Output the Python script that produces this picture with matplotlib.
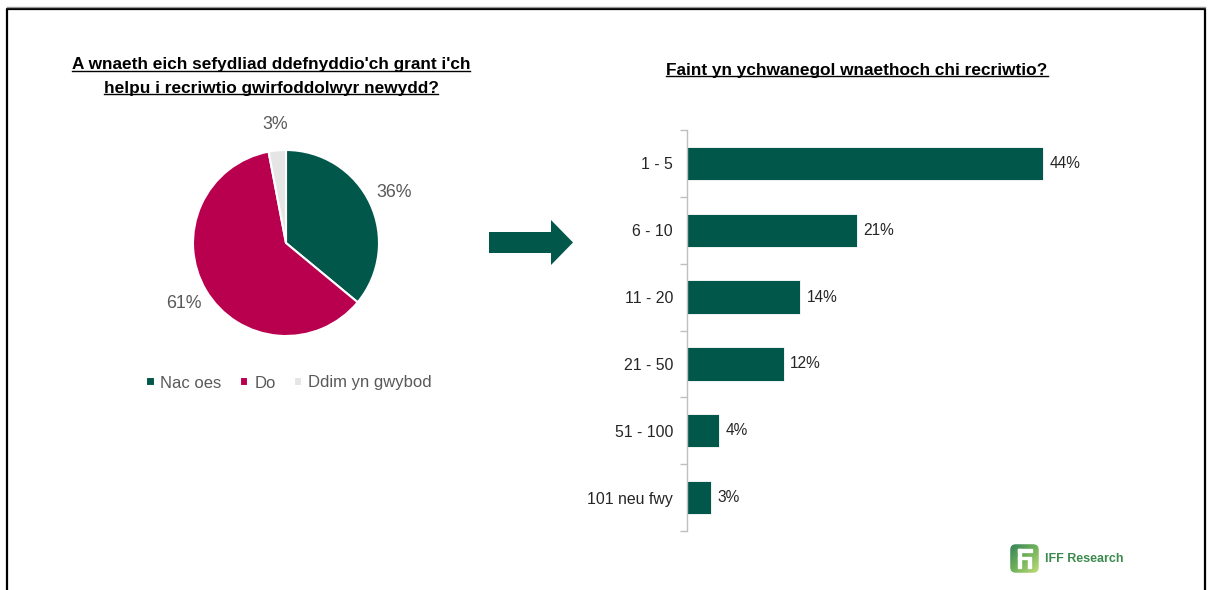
import matplotlib
matplotlib.use("Agg")
import matplotlib.pyplot as plt
import numpy as np
from matplotlib.patches import FancyArrow, FancyBboxPatch, Rectangle
from matplotlib.lines import Line2D
from matplotlib.colors import LinearSegmentedColormap

plt.rcParams['font.family'] = ['Liberation Sans', 'DejaVu Sans']

# ---- data ----
pie_title = ["A wnaeth eich sefydliad ddefnyddio'ch grant i'ch",
             "helpu i recriwtio gwirfoddolwyr newydd?"]
pie_labels = ["Nac oes", "Do", "Ddim yn gwybod"]
pie_values = [36, 61, 3]

bar_title = "Faint yn ychwanegol wnaethoch chi recriwtio?"
bar_categories = ["1 - 5", "6 - 10", "11 - 20", "21 - 50", "51 - 100", "101 neu fwy"]
bar_values = [44, 21, 14, 12, 4, 3]

GREEN = "#00574A"
CRIMSON = "#B8004E"
LIGHT = "#E5E5E5"
GREY_TXT = "#595959"
AXIS_GREY = "#BFBFBF"

W, H = 1210, 590
fig = plt.figure(figsize=(W / 100, H / 100), dpi=100)
fig.patch.set_facecolor("white")

def fx(px):
    return px / W

def fy(py):
    return 1 - py / H

# ---- border ----
fig.add_artist(Line2D([fx(6.5), fx(6.5), fx(1205), fx(1205)],
                      [fy(590), fy(8.5), fy(8.5), fy(590)],
                      transform=fig.transFigure, color="black", lw=1.6))
fig.add_artist(Line2D([fx(6.5), fx(1205)], [fy(6.8), fy(6.8)],
                      transform=fig.transFigure, color="#9A9A9A", lw=1.0))

# ---- pie ----
cx, cy, r = 286, 243, 93
pax = fig.add_axes([fx(cx - r), fy(cy + r), fx(2 * r), 2 * r / H])
wedges, texts, autotexts = pax.pie(
    pie_values, colors=[GREEN, CRIMSON, LIGHT], startangle=90, counterclock=False,
    autopct=lambda p: f"{round(p)}%", pctdistance=1.28,
    wedgeprops=dict(edgecolor="white", linewidth=1.5),
    textprops=dict(color=GREY_TXT, fontsize=12.8))
pax.set_xlim(-1, 1)
pax.set_ylim(-1, 1)
pax.set_aspect("equal")

leg = pax.legend(wedges, pie_labels, loc="center", bbox_to_anchor=(fx(289), fy(383)),
                 bbox_transform=fig.transFigure, ncol=3, frameon=False,
                 handlelength=0.5, handleheight=0.5, handletextpad=0.35,
                 columnspacing=1.1, fontsize=12.0, borderaxespad=0)
for t in leg.get_texts():
    t.set_color(GREY_TXT)

# ---- titles with underline ----
title_texts = []
for i, line in enumerate(pie_title):
    t = fig.text(fx(271), fy(65 + i * 23), line, ha="center", va="center",
                 fontsize=12.4, fontweight="bold", color="black")
    title_texts.append(t)
t2 = fig.text(fx(857), fy(70), bar_title, ha="center", va="center",
              fontsize=12.4, fontweight="bold", color="black")
title_texts.append(t2)

# ---- arrow ----
fig.add_artist(FancyArrow(fx(489), fy(242.5), fx(84), 0, width=21 / H,
                          head_width=45 / H, head_length=fx(22),
                          length_includes_head=True, transform=fig.transFigure,
                          color=GREEN, lw=0))

# ---- bar chart ----
px_per_pct = 8.09
xmax = 60
bax = fig.add_axes([fx(687), fy(531), fx(px_per_pct * xmax), 401 / H])
ypos = np.arange(len(bar_categories))
bars = bax.barh(ypos, bar_values, height=0.5, color=GREEN, edgecolor="white", linewidth=0.6)
bax.set_xlim(0, xmax)
bax.set_ylim(len(bar_categories) - 0.5, -0.5)
for s in ["top", "right", "bottom"]:
    bax.spines[s].set_visible(False)
bax.spines["left"].set_color(AXIS_GREY)
bax.spines["left"].set_linewidth(1.0)
bax.set_xticks([])
bax.set_yticks(np.arange(-0.5, len(bar_categories) + 0.5, 1.0))
bax.set_yticklabels([])
bax.tick_params(axis="y", which="major", length=5, color=AXIS_GREY, width=1.0)
bax.set_yticks(ypos, minor=True)
bax.set_yticklabels(bar_categories, minor=True, fontsize=11.4, color="#262626")
bax.tick_params(axis="y", which="minor", length=0, pad=10)
for b, v in zip(bars, bar_values):
    bax.annotate(f"{v}%", (b.get_width(), b.get_y() + b.get_height() / 2),
                 xytext=(4.5, 0), textcoords="offset points", va="center", ha="left",
                 fontsize=11.2, color="#262626")

# ---- logo ----
lax = fig.add_axes([fx(1008), fy(574), fx(33), 31 / H])
grad = np.linspace(0, 1, 64)
G = (grad[None, :] + grad[:, None]) / 2
cmap = LinearSegmentedColormap.from_list("logo", ["#2E7D5A", "#6FB15A", "#C9E07A"])
im = lax.imshow(G, cmap=cmap, extent=[0, 1, 0, 1], origin="upper")
clip = FancyBboxPatch((0.04, 0.04), 0.92, 0.92, boxstyle="round,pad=0,rounding_size=0.18",
                      transform=lax.transAxes, facecolor="none", edgecolor="none")
lax.add_patch(clip)
im.set_clip_path(clip)
lax.add_patch(Rectangle((0.3, 0.72), 0.45, 0.09, color="white"))
lax.add_patch(Rectangle((0.3, 0.2), 0.1, 0.6, color="white"))
lax.add_patch(Rectangle((0.3, 0.48), 0.3, 0.08, color="white"))
lax.add_patch(Rectangle((0.6, 0.2), 0.1, 0.36, color="white"))
lax.set_xlim(0, 1)
lax.set_ylim(0, 1)
lax.axis("off")
fig.text(fx(1045), fy(559), "IFF Research", ha="left", va="center", fontsize=9,
         fontweight="bold", color="#3C8A4E")

# ---- underline titles ----
fig.canvas.draw()
renderer = fig.canvas.get_renderer()
for t in title_texts:
    bb = t.get_window_extent(renderer)
    yline = bb.y0 + 1.5
    fig.add_artist(Line2D([bb.x0 / W, bb.x1 / W], [yline / H, yline / H],
                          transform=fig.transFigure, color="black", lw=1.0))

fig.savefig("out.png", dpi=100, facecolor="white")
